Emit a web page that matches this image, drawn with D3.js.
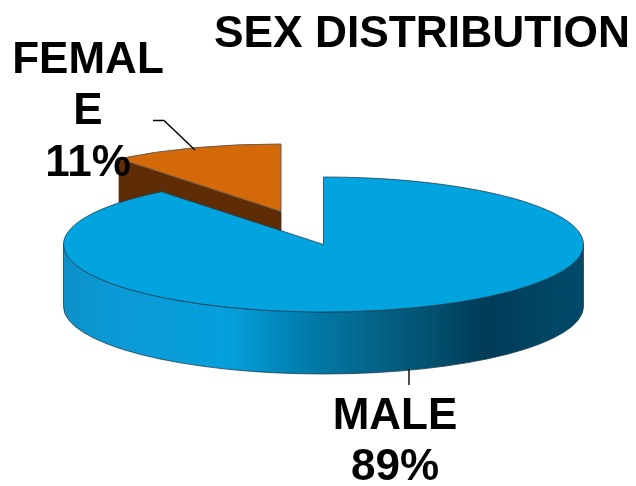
<!DOCTYPE html>
<html><head><meta charset="utf-8">
<script src="https://cdnjs.cloudflare.com/ajax/libs/d3/7.8.5/d3.min.js"></script>
<style>html,body{margin:0;padding:0;background:#fff}svg{display:block;filter:blur(0.35px)}text{font-family:"Liberation Sans",Arial,sans-serif;font-weight:700;fill:#000}</style>
</head><body><svg id="c" width="636" height="486"></svg>
<script>
const categories = ["MALE", "FEMALE"];
const values = [89.3, 10.7];
const title = "SEX DISTRIBUTION";
const femaleLabelLines = ["FEMAL", "E"];

const svg = d3.select("#c");
const rx = 260, ry = 67.5, depth = 62;
const cx = 323.5, cy = 244.5;
const off = {x: -42.5, y: -33};
const blue = "#02a4e0", orange = "#d4690a", brown = "#5e2d05", edge = "#1f3f55";

const arcs = d3.pie().sort(null).value(d => d)(values);
const arcGen = d3.arc().innerRadius(0).outerRadius(rx);
const K = ry / rx;
const px = (a, ox) => ox + rx * Math.sin(a);
const py = (a, oy) => oy - ry * Math.cos(a);

const defs = svg.append("defs");
const stops = [[0,"#0d90c8"],[0.1,"#0b9ad6"],[0.32,"#05a0dc"],[0.44,"#0182b4"],[0.57,"#04688f"],[0.7,"#035271"],[0.81,"#003c58"],[1,"#014a6a"]];
const g = defs.append("linearGradient").attr("id","wall").attr("gradientUnits","userSpaceOnUse")
  .attr("x1",cx-rx).attr("x2",cx+rx).attr("y1",0).attr("y2",0);
stops.forEach(s => g.append("stop").attr("offset",s[0]).attr("stop-color",s[1]));

const f = arcs[1];
const fx = cx + off.x, fy = cy + off.y;
const p0 = [px(f.startAngle, fx), py(f.startAngle, fy)];
const face = d3.path();
face.moveTo(p0[0], p0[1]); face.lineTo(fx, fy); face.lineTo(fx, fy + depth); face.lineTo(p0[0], p0[1] + depth); face.closePath();
svg.append("path").attr("d", face.toString()).attr("fill", brown).attr("stroke", "#4a2a10").attr("stroke-width", 0.8);
const fg = svg.append("g").attr("transform", `translate(${fx},${fy}) scale(1,${K})`);
fg.append("path").attr("d", arcGen(f)).attr("fill", orange).attr("stroke", "#6b5a4a").attr("stroke-width", 1).attr("vector-effect","non-scaling-stroke");

const wall = `M${cx-rx},${cy} A${rx},${ry} 0 0 0 ${cx+rx},${cy} L${cx+rx},${cy+depth} A${rx},${ry} 0 0 1 ${cx-rx},${cy+depth} Z`;
svg.append("path").attr("d", wall).attr("fill", "url(#wall)").attr("stroke", edge).attr("stroke-width", 0.8);

const mg = svg.append("g").attr("transform", `translate(${cx},${cy}) scale(1,${K})`);
mg.append("path").attr("d", arcGen(arcs[0])).attr("fill", blue).attr("stroke", edge).attr("stroke-width", 0.8).attr("vector-effect","non-scaling-stroke");

const line = d3.line();
svg.append("path").attr("d", line([[153,120.5],[164,120.5],[195,150]])).attr("fill","none").attr("stroke","#000").attr("stroke-width",1.4);
svg.append("path").attr("d", line([[409,369],[409,385]])).attr("fill","none").attr("stroke","#000").attr("stroke-width",1.4);

svg.append("text").attr("x",214).attr("y",47).attr("font-size",44).attr("textLength",416).attr("lengthAdjust","spacingAndGlyphs").text(title);
const pct = d3.format(".0f");
const flab = svg.append("g").attr("text-anchor","middle").attr("font-size",44);
femaleLabelLines.concat([pct(values[1])+"%"]).forEach((t,i)=>flab.append("text").attr("x",88).attr("y",[73,124,176][i]).text(t));
const mlab = svg.append("g").attr("text-anchor","middle").attr("font-size",44);
[categories[0], pct(values[0])+"%"].forEach((t,i)=>mlab.append("text").attr("x",395).attr("y",[429,480][i]).text(t));
</script></body></html>
